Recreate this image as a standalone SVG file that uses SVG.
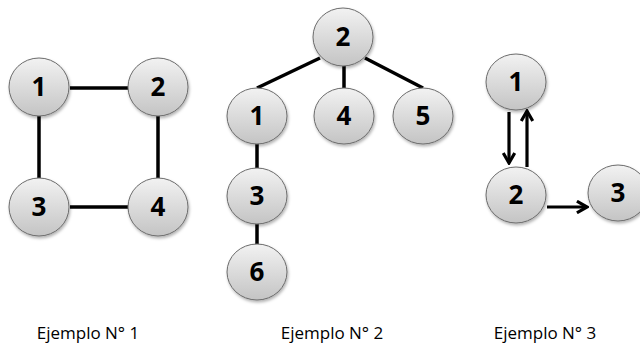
<svg xmlns="http://www.w3.org/2000/svg" width="640" height="345" viewBox="0 0 640 345">
<defs>
<linearGradient id="g" x1="0" y1="0" x2="0" y2="1">
<stop offset="0" stop-color="#f2f2f2"/>
<stop offset="1" stop-color="#c4c4c4"/>
</linearGradient>
<filter id="sh" x="-20%" y="-20%" width="150%" height="150%">
<feDropShadow dx="1" dy="2" stdDeviation="1.5" flood-color="#000" flood-opacity="0.3"/>
</filter>
<marker id="ah" viewBox="0 0 10 10" refX="8.5" refY="5" markerWidth="4.5" markerHeight="4.5" orient="auto" markerUnits="strokeWidth">
<path d="M1.5,1 L8.5,5 L1.5,9" fill="none" stroke="#000" stroke-width="2.2"/>
</marker>
</defs>
<style>
.n ellipse{fill:url(#g);stroke:#6b6b6b;stroke-width:1;filter:url(#sh)}
.n text{font-family:"Open Sans","Liberation Sans",sans-serif;font-weight:bold;font-size:26px;fill:#000;text-anchor:middle}
.c line{stroke:#000;stroke-width:3.5}
.c .a{stroke-width:3.2;marker-end:url(#ah)}
.lbl{font-family:"Open Sans","Liberation Sans",sans-serif;font-size:17px;fill:#000;text-anchor:middle}
</style>
<g id="connectors" class="c">
<line x1="70" y1="88" x2="128" y2="88"/>
<line x1="39" y1="116" x2="39" y2="178"/>
<line x1="158" y1="116" x2="158" y2="178"/>
<line x1="70" y1="207" x2="128" y2="207"/>
<line x1="320" y1="58" x2="257" y2="88"/>
<line x1="344" y1="66" x2="344" y2="88"/>
<line x1="365" y1="58" x2="423" y2="88"/>
<line x1="257" y1="143" x2="257" y2="168"/>
<line x1="257" y1="223" x2="257" y2="245"/>
<line class="a" x1="509" y1="112" x2="509" y2="163"/>
<line class="a" x1="527" y1="167" x2="527" y2="111"/>
<line class="a" x1="547" y1="207" x2="587" y2="207"/>
</g>
<g id="e1n1" class="n"><ellipse cx="39" cy="87" rx="30" ry="29"/><text x="39" y="96">1</text></g>
<g id="e1n2" class="n"><ellipse cx="158" cy="87" rx="30" ry="29"/><text x="158" y="96">2</text></g>
<g id="e1n3" class="n"><ellipse cx="39" cy="207" rx="30" ry="29"/><text x="39" y="216">3</text></g>
<g id="e1n4" class="n"><ellipse cx="158" cy="207" rx="30" ry="29"/><text x="158" y="216">4</text></g>
<g id="e2n2" class="n"><ellipse cx="343" cy="37" rx="30" ry="29"/><text x="343" y="46">2</text></g>
<g id="e2n1" class="n"><ellipse cx="257" cy="116" rx="30" ry="28"/><text x="257" y="125">1</text></g>
<g id="e2n4" class="n"><ellipse cx="344" cy="116" rx="30" ry="28"/><text x="344" y="125">4</text></g>
<g id="e2n5" class="n"><ellipse cx="423" cy="116" rx="30" ry="28"/><text x="423" y="125">5</text></g>
<g id="e2n3" class="n"><ellipse cx="257" cy="196" rx="30" ry="28"/><text x="257" y="205">3</text></g>
<g id="e2n6" class="n"><ellipse cx="257" cy="272" rx="30" ry="28"/><text x="257" y="281">6</text></g>
<g id="e3n1" class="n"><ellipse cx="516" cy="82" rx="30" ry="28"/><text x="516" y="91">1</text></g>
<g id="e3n2" class="n"><ellipse cx="516" cy="195" rx="30" ry="28"/><text x="516" y="204">2</text></g>
<g id="e3n3" class="n"><ellipse cx="618" cy="193" rx="30" ry="28"/><text x="618" y="202">3</text></g>
<text class="lbl" x="88" y="339">Ejemplo N° 1</text>
<text class="lbl" x="332" y="339">Ejemplo N° 2</text>
<text class="lbl" x="545" y="339">Ejemplo N° 3</text>
</svg>
